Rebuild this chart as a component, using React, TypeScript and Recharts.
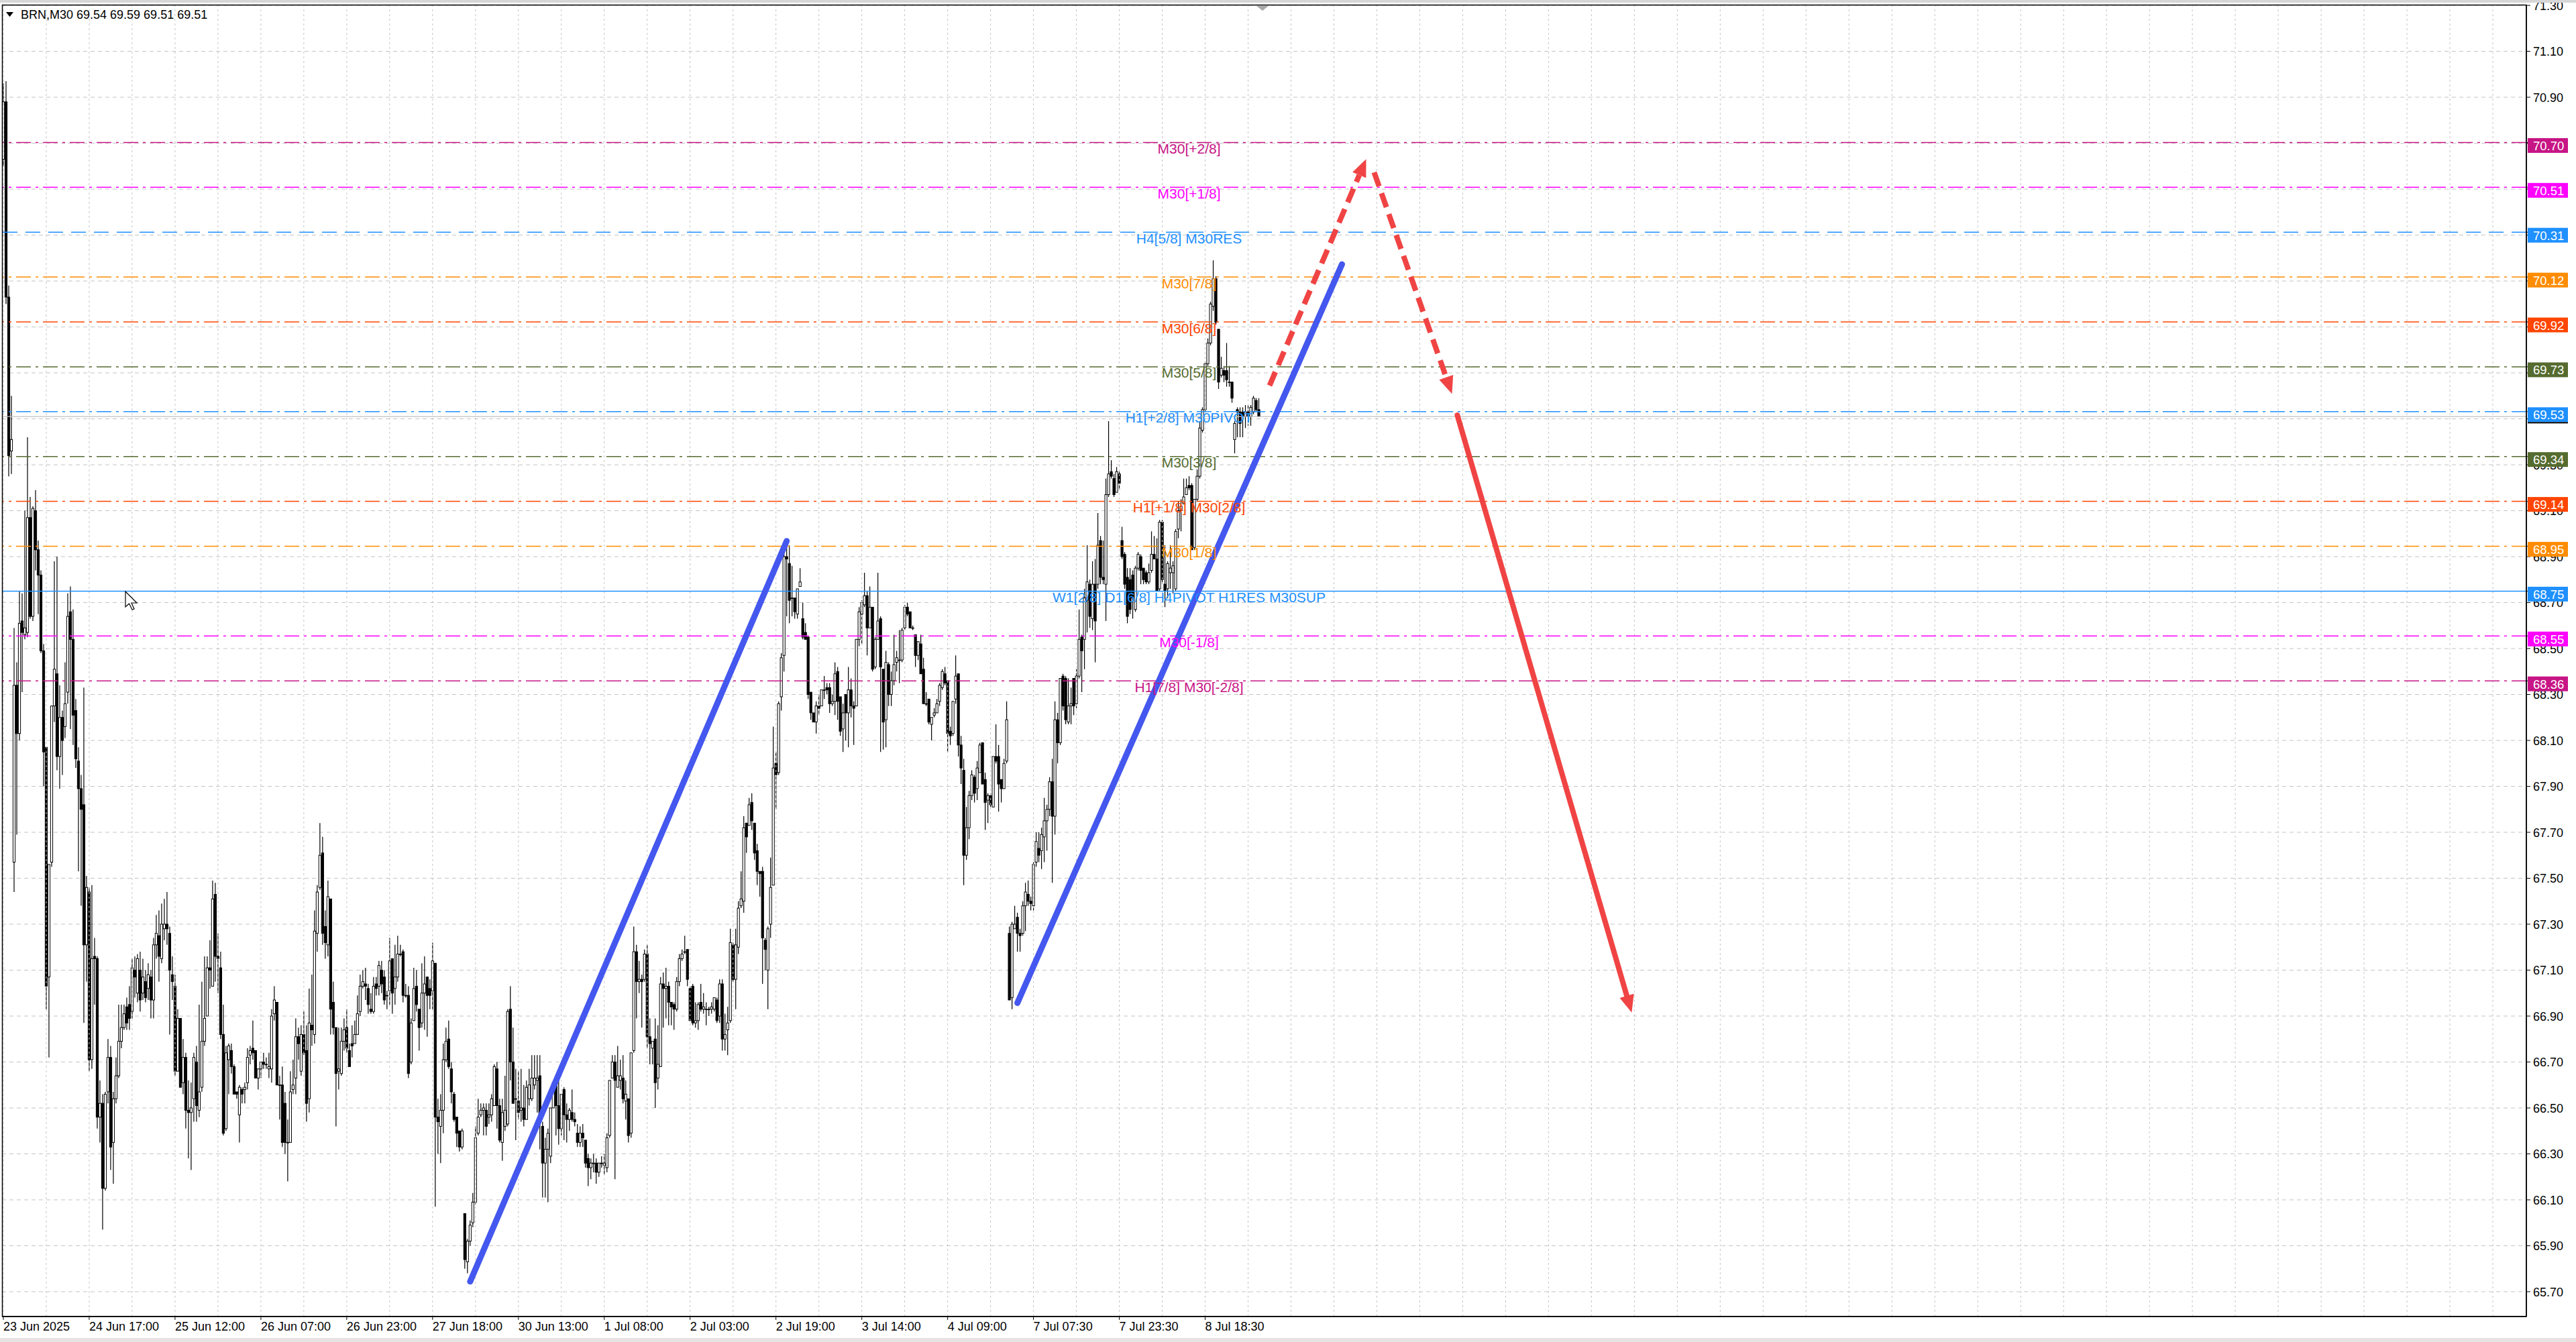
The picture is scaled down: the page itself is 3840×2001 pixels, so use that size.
import {
  Bar,
  CartesianGrid,
  ComposedChart,
  ReferenceDot,
  ReferenceLine,
  XAxis,
  YAxis,
} from "recharts";

const FONT = "'Liberation Sans', Arial, sans-serif";
const SLOTS = 941; // visible bar slots incl. empty right-hand space

// M30 candles, each [open, high, low, close]
const candlesJun23 = [
  [70.63, 70.96, 70.6, 70.88], [70.88, 70.97, 70.0, 70.03], [70.03, 70.08, 69.25, 69.34], [69.36, 69.6, 69.26, 69.41],
  [67.57, 68.59, 67.44, 68.34], [68.34, 68.44, 67.69, 68.13], [68.13, 68.75, 68.1, 68.61], [68.62, 68.74, 68.31, 68.57],
  [68.56, 69.1, 68.54, 68.59], [68.57, 69.42, 68.55, 69.07], [69.07, 69.16, 68.63, 68.64], [68.64, 69.12, 68.62, 69.11],
  [69.1, 69.19, 68.84, 68.93], [68.93, 68.97, 68.65, 68.82], [68.82, 68.84, 68.48, 68.49], [68.49, 68.52, 67.9, 68.05],
  [68.07, 68.07, 66.93, 67.03], [67.07, 67.56, 66.72, 67.56], [67.57, 68.25, 67.55, 68.25], [68.25, 68.88, 68.18, 68.41],
  [68.39, 68.9, 67.97, 68.03], [68.03, 68.34, 67.89, 68.2], [68.2, 68.23, 67.95, 68.1], [68.16, 68.44, 68.11, 68.26],
  [68.31, 68.74, 68.26, 68.64], [68.66, 68.77, 68.15, 68.54], [68.54, 68.67, 68.08, 68.21], [68.23, 68.28, 67.98, 68.02],
  [68.01, 68.07, 67.53, 67.89], [67.89, 67.95, 67.38, 67.8], [67.82, 68.33, 66.87, 67.21], [67.21, 67.51, 67.05, 67.46],
  [67.44, 67.46, 66.66, 66.71], [66.71, 67.47, 66.67, 67.15], [67.16, 67.24, 66.95, 67.15], [67.15, 67.16, 66.41, 66.46],
  [66.46, 66.62, 66.35, 66.52], [66.52, 66.56, 65.97, 66.15], [66.15, 66.57, 66.14, 66.56], [66.57, 66.8, 66.52, 66.72],
  [66.72, 66.77, 66.23, 66.33], [66.35, 66.57, 66.17, 66.54], [66.54, 66.72, 66.52, 66.64], [66.64, 66.95, 66.63, 66.79],
  [66.79, 66.95, 66.76, 66.85], [66.85, 66.95, 66.84, 66.91], [66.94, 66.98, 66.84, 66.87], [66.95, 67.03, 66.84, 66.89],
  [66.92, 67.15, 66.89, 67.11], [67.1, 67.16, 66.98, 67.07], [67.0, 67.17, 66.96, 67.15], [67.1, 67.18, 66.92, 66.97],
  [67.0, 67.15, 66.97, 67.07], [67.05, 67.1, 66.96, 66.98], [67.02, 67.13, 66.97, 67.08], [67.07, 67.1, 66.89, 66.97],
  [66.97, 67.24, 66.89, 67.21], [67.21, 67.34, 67.15, 67.26], [67.25, 67.36, 67.05, 67.16], [67.15, 67.39, 67.13, 67.3],
  [67.28, 67.41, 67.23, 67.3], [67.3, 67.44, 67.21, 67.28], [67.26, 67.29, 66.82, 67.1], [67.08, 67.16, 66.97, 67.05],
  [67.03, 67.08, 66.64, 66.66], [66.66, 66.93, 66.66, 66.89], [66.89, 66.89, 66.59, 66.59], [66.61, 66.8, 66.56, 66.72],
  [66.72, 66.74, 66.41, 66.49], [66.49, 66.62, 66.28, 66.48], [66.48, 66.61, 66.23, 66.5], [66.54, 66.74, 66.44, 66.72],
  [66.7, 66.77, 66.44, 66.51], [66.49, 66.95, 66.46, 66.57], [66.59, 67.05, 66.57, 66.79], [66.79, 67.16, 66.77, 66.89],
  [66.9, 67.16, 66.9, 67.11], [67.11, 67.23, 67.02, 67.1], [67.03, 67.49, 67.03, 67.41], [67.43, 67.48, 67.05, 67.16],
  [67.16, 67.26, 67.0, 67.15], [67.11, 67.18, 66.8, 66.82], [66.82, 66.95, 66.38, 66.39], [66.41, 66.77, 66.4, 66.74],
];

const candlesJun25 = [
  [66.71, 66.78, 66.56, 66.77], [66.75, 66.78, 66.65, 66.68], [66.68, 66.69, 66.56, 66.56], [66.57, 66.57, 66.54, 66.56],
  [66.47, 66.6, 66.35, 66.59], [66.58, 66.59, 66.52, 66.56], [66.58, 66.61, 66.52, 66.59], [66.61, 66.76, 66.58, 66.72],
  [66.73, 66.77, 66.69, 66.75], [66.76, 66.88, 66.71, 66.74], [66.75, 66.75, 66.63, 66.63], [66.63, 66.67, 66.58, 66.67],
  [66.67, 66.7, 66.63, 66.7], [66.7, 66.74, 66.67, 66.69], [66.69, 66.72, 66.67, 66.69], [66.67, 66.74, 66.63, 66.68],
  [66.67, 66.93, 66.61, 66.9], [66.91, 67.03, 66.88, 66.97], [66.96, 66.96, 66.6, 66.6], [66.6, 66.64, 66.45, 66.6],
  [66.6, 66.68, 66.33, 66.35], [66.52, 66.57, 66.3, 66.35], [66.35, 66.45, 66.18, 66.35], [66.35, 66.66, 66.35, 66.57],
  [66.58, 66.71, 66.56, 66.6], [66.63, 66.89, 66.56, 66.81], [66.81, 66.85, 66.71, 66.78], [66.66, 66.86, 66.64, 66.82],
  [66.82, 66.92, 66.73, 66.74], [66.75, 66.86, 66.44, 66.52], [66.54, 67.02, 66.48, 66.87], [66.86, 67.08, 66.77, 66.84],
  [66.82, 67.36, 66.78, 67.27], [67.26, 67.47, 67.18, 67.44], [67.46, 67.74, 67.45, 67.6], [67.61, 67.68, 67.21, 67.26],
  [67.29, 67.36, 67.15, 67.22], [67.21, 67.49, 67.16, 67.42], [67.41, 67.41, 66.82, 66.93], [66.96, 67.05, 66.82, 66.85],
  [66.85, 66.85, 66.42, 66.65], [66.66, 66.85, 66.58, 66.67], [66.65, 66.85, 66.64, 66.79], [66.79, 66.89, 66.75, 66.84],
  [66.85, 66.93, 66.74, 66.76], [66.75, 66.78, 66.68, 66.68], [66.78, 66.86, 66.72, 66.77], [66.78, 66.88, 66.78, 66.82],
  [66.82, 66.99, 66.82, 66.91], [66.92, 67.08, 66.9, 67.03], [67.03, 67.1, 67.02, 67.05], [67.04, 67.11, 66.97, 67.03],
  [67.02, 67.04, 66.91, 66.95], [66.93, 67.0, 66.91, 66.92], [66.92, 67.07, 66.91, 67.03], [67.04, 67.07, 66.99, 67.02],
  [67.03, 67.14, 66.99, 67.12], [67.1, 67.14, 67.0, 67.04], [67.07, 67.1, 66.95, 66.97], [66.99, 67.01, 66.93, 66.99],
  [67.01, 67.24, 66.95, 67.14], [67.15, 67.15, 66.91, 67.0], [67.02, 67.21, 66.95, 67.07], [67.07, 67.25, 67.05, 67.17],
  [67.17, 67.21, 67.16, 67.17], [67.18, 67.19, 66.96, 66.99], [66.99, 67.04, 66.98, 66.99], [66.99, 67.03, 66.63, 66.65],
  [66.7, 66.89, 66.69, 66.87], [66.88, 67.11, 66.88, 67.02], [67.03, 67.1, 66.92, 66.95], [66.93, 66.93, 66.75, 66.85],
  [66.87, 67.13, 66.85, 67.0], [67.0, 67.16, 66.84, 67.04], [67.07, 67.07, 66.81, 66.99], [67.02, 67.06, 66.93, 66.99],
  [67.01, 67.22, 66.93, 67.14], [67.13, 67.13, 66.07, 66.46], [66.46, 66.54, 66.3, 66.44], [66.42, 66.56, 66.26, 66.49],
  [66.49, 66.78, 66.39, 66.71], [66.71, 66.85, 66.7, 66.79], [66.8, 66.88, 66.67, 66.68], [66.67, 66.7, 66.52, 66.57],
  [66.56, 66.57, 66.44, 66.45], [66.46, 66.46, 66.33, 66.39], [66.4, 66.4, 66.31, 66.33], [66.33, 66.41, 66.32, 66.4],
  [66.04, 66.04, 65.8, 65.84], [65.83, 65.93, 65.78, 65.92], [65.92, 66.01, 65.9, 65.99], [66.0, 66.13, 65.98, 66.09],
  [66.09, 66.42, 66.08, 66.37], [66.39, 66.54, 66.38, 66.46], [66.47, 66.52, 66.46, 66.49],
];

const candlesJun30 = [
  [66.49, 66.52, 66.38, 66.5], [66.49, 66.52, 66.38, 66.42], [66.46, 66.52, 66.43, 66.47], [66.47, 66.56, 66.44, 66.54],
  [66.51, 66.69, 66.51, 66.68], [66.67, 66.7, 66.41, 66.51], [66.51, 66.54, 66.35, 66.36], [66.35, 66.54, 66.27, 66.48],
  [66.42, 66.64, 66.4, 66.49], [66.43, 66.93, 66.42, 66.92], [66.93, 67.03, 66.62, 66.7], [66.7, 66.85, 66.52, 66.52],
  [66.54, 66.67, 66.36, 66.54], [66.53, 66.66, 66.45, 66.48], [66.49, 66.67, 66.44, 66.5], [66.5, 66.6, 66.42, 66.45],
  [66.45, 66.62, 66.45, 66.59], [66.54, 66.67, 66.51, 66.6], [66.54, 66.73, 66.53, 66.63], [66.6, 66.73, 66.58, 66.63],
  [66.62, 66.73, 66.48, 66.63], [66.64, 66.73, 66.32, 66.47], [66.42, 66.44, 66.11, 66.26], [66.26, 66.37, 66.11, 66.32],
  [66.32, 66.41, 66.09, 66.39], [66.29, 66.5, 66.26, 66.5], [66.5, 66.61, 66.5, 66.61], [66.6, 66.63, 66.38, 66.51],
  [66.51, 66.63, 66.34, 66.41], [66.41, 66.56, 66.38, 66.56], [66.58, 66.59, 66.36, 66.47], [66.47, 66.52, 66.35, 66.45],
  [66.45, 66.5, 66.4, 66.49], [66.48, 66.58, 66.44, 66.45], [66.45, 66.48, 66.42, 66.44], [66.39, 66.43, 66.33, 66.35],
  [66.35, 66.42, 66.33, 66.39], [66.39, 66.43, 66.33, 66.37], [66.36, 66.36, 66.24, 66.26], [66.28, 66.3, 66.16, 66.24],
  [66.24, 66.28, 66.19, 66.26], [66.26, 66.3, 66.22, 66.26], [66.26, 66.28, 66.17, 66.22], [66.22, 66.26, 66.2, 66.26],
  [66.26, 66.29, 66.24, 66.26], [66.25, 66.3, 66.21, 66.26], [66.24, 66.39, 66.22, 66.37], [66.38, 66.62, 66.37, 66.62],
  [66.63, 66.73, 66.63, 66.7], [66.7, 66.73, 66.19, 66.62], [66.59, 66.77, 66.59, 66.64], [66.62, 66.71, 66.58, 66.64],
  [66.63, 66.73, 66.52, 66.54], [66.53, 66.62, 66.45, 66.56], [66.54, 66.54, 66.35, 66.38], [66.39, 66.74, 66.37, 66.74],
  [66.75, 67.29, 66.74, 67.18], [67.18, 67.21, 66.89, 67.05], [67.05, 67.14, 67.0, 67.06], [67.06, 67.08, 66.85, 67.05],
  [67.06, 67.19, 67.05, 67.17], [67.17, 67.21, 66.76, 66.81], [66.81, 66.89, 66.69, 66.78], [66.76, 66.78, 66.69, 66.79],
  [66.8, 66.89, 66.5, 66.61], [66.63, 66.86, 66.58, 66.69], [66.68, 67.07, 66.68, 67.04], [67.04, 67.09, 66.85, 67.02],
  [67.02, 67.11, 66.89, 67.03], [67.03, 67.05, 66.86, 66.96], [66.96, 66.96, 66.86, 66.94], [66.95, 66.96, 66.84, 66.93],
  [66.93, 67.07, 66.92, 67.05], [67.05, 67.17, 67.03, 67.15], [67.15, 67.19, 67.14, 67.17], [67.18, 67.25, 67.17, 67.18],
  [67.19, 67.19, 67.03, 67.06], [67.02, 67.03, 66.88, 66.88], [67.03, 67.04, 66.86, 66.87], [66.87, 66.96, 66.85, 66.88],
  [66.88, 66.96, 66.84, 66.95], [66.96, 67.04, 66.92, 66.93], [66.93, 67.0, 66.91, 66.94], [66.93, 66.96, 66.86, 66.93],
  [66.93, 66.94, 66.9, 66.93], [66.93, 66.96, 66.91, 66.94], [66.93, 66.98, 66.92, 66.98], [66.97, 66.98, 66.87, 66.88],
  [66.9, 67.06, 66.87, 67.04], [67.04, 67.06, 66.75, 66.8], [66.8, 66.91, 66.75, 66.82], [66.84, 66.94, 66.73, 66.87],
  [66.88, 67.28, 66.87, 67.22], [67.21, 67.22, 67.05, 67.06], [67.06, 67.28, 66.93, 67.21], [67.2, 67.4, 67.17, 67.37],
  [67.38, 67.53, 67.37, 67.41], [67.4, 67.77, 67.35, 67.72], [67.74, 67.74, 67.61, 67.68], [67.73, 67.85, 67.73, 67.82],
  [67.83, 67.87, 67.71, 67.75], [67.74, 67.74, 67.58, 67.61], [67.62, 67.65, 67.47, 67.53], [67.53, 67.53, 67.42, 67.52],
  [67.53, 67.55, 67.04, 67.24], [67.23, 67.24, 67.1, 67.19], [67.1, 67.29, 66.93, 67.28], [67.3, 67.59, 67.24, 67.46],
  [67.47, 68.16, 67.47, 67.98], [68.0, 68.05, 67.8, 67.95], [67.96, 68.27, 67.95, 68.26], [68.29, 68.48, 68.23, 68.46],
  [68.47, 68.92, 68.4, 68.9], [68.9, 68.94, 68.64, 68.89], [68.87, 68.95, 68.61, 68.71],
];

const candlesJul2 = [
  [68.72, 68.86, 68.64, 68.72], [68.72, 68.72, 68.63, 68.66], [68.65, 68.76, 68.63, 68.76], [68.77, 68.85, 68.77, 68.79],
  [68.63, 68.7, 68.54, 68.55], [68.57, 68.61, 68.54, 68.54], [68.55, 68.55, 68.28, 68.3], [68.31, 68.31, 68.19, 68.22],
  [68.22, 68.22, 68.18, 68.18], [68.18, 68.27, 68.13, 68.25], [68.25, 68.3, 68.21, 68.24], [68.25, 68.32, 68.25, 68.32],
  [68.32, 68.38, 68.28, 68.32], [68.33, 68.35, 68.3, 68.32], [68.33, 68.35, 68.22, 68.26], [68.26, 68.3, 68.25, 68.27],
  [68.27, 68.44, 68.21, 68.39], [68.4, 68.42, 68.19, 68.27], [68.29, 68.29, 68.12, 68.14], [68.15, 68.26, 68.05, 68.22],
  [68.3, 68.3, 68.1, 68.22], [68.22, 68.42, 68.07, 68.32], [68.32, 68.37, 68.2, 68.25], [68.25, 68.27, 68.08, 68.24],
  [68.25, 68.54, 68.25, 68.54], [68.54, 68.68, 68.51, 68.66], [68.65, 68.71, 68.52, 68.7], [68.69, 68.83, 68.68, 68.73],
  [68.73, 68.75, 68.47, 68.59], [68.59, 68.77, 68.59, 68.68], [68.68, 68.68, 68.4, 68.41], [68.42, 68.55, 68.41, 68.54],
  [68.54, 68.83, 68.54, 68.62], [68.63, 68.64, 68.05, 68.42], [68.41, 68.41, 68.06, 68.18], [68.19, 68.49, 68.07, 68.44],
  [68.43, 68.44, 68.25, 68.3], [68.3, 68.4, 68.25, 68.36], [68.36, 68.56, 68.34, 68.43], [68.44, 68.49, 68.4, 68.46],
  [68.45, 68.58, 68.35, 68.45], [68.45, 68.59, 68.44, 68.58], [68.59, 68.69, 68.58, 68.68], [68.68, 68.7, 68.64, 68.65],
  [68.66, 68.66, 68.59, 68.59], [68.59, 68.6, 68.58, 68.59], [68.56, 68.56, 68.42, 68.47], [68.47, 68.53, 68.45, 68.53],
  [68.52, 68.56, 68.39, 68.39], [68.41, 68.46, 68.26, 68.26], [68.26, 68.31, 68.25, 68.26], [68.28, 68.28, 68.17, 68.18],
  [68.17, 68.2, 68.1, 68.2], [68.21, 68.24, 68.2, 68.22], [68.22, 68.28, 68.22, 68.26], [68.27, 68.35, 68.25, 68.34],
  [68.33, 68.41, 68.32, 68.4], [68.39, 68.42, 68.34, 68.35], [68.36, 68.36, 68.05, 68.13], [68.14, 68.16, 68.08, 68.12],
  [68.13, 68.27, 68.12, 68.27], [68.28, 68.47, 68.26, 68.38], [68.39, 68.39, 68.03, 68.08], [68.08, 68.12, 67.91, 67.98],
  [67.97, 68.02, 67.47, 67.6], [67.6, 67.81, 67.58, 67.72], [67.72, 67.88, 67.67, 67.86], [67.86, 67.97, 67.84, 67.95],
  [67.94, 67.95, 67.83, 67.87], [67.89, 68.01, 67.84, 67.98], [67.96, 68.09, 67.96, 68.08], [68.09, 68.09, 67.91, 67.91],
  [67.93, 67.96, 67.71, 67.83], [67.84, 67.87, 67.74, 67.86], [67.86, 67.87, 67.81, 67.82], [67.81, 68.03, 67.81, 68.03],
  [68.03, 68.17, 68.0, 68.01], [68.03, 68.08, 67.79, 67.91], [67.93, 67.93, 67.83, 67.89], [67.89, 68.02, 67.89, 68.0],
  [68.01, 68.27, 68.0, 68.19],
];

const candlesJul7 = [
  [67.26, 67.29, 66.97, 66.97], [66.98, 67.31, 66.93, 67.3], [67.28, 67.38, 67.28, 67.3], [67.33, 67.35, 67.18, 67.26],
  [67.26, 67.28, 67.18, 67.25], [67.26, 67.4, 67.25, 67.38], [67.38, 67.48, 67.27, 67.44], [67.43, 67.49, 67.38, 67.4],
  [67.4, 67.42, 67.36, 67.39], [67.38, 67.57, 67.36, 67.56], [67.57, 67.7, 67.55, 67.66], [67.63, 67.7, 67.57, 67.6],
  [67.62, 67.72, 67.54, 67.69], [67.68, 67.85, 67.57, 67.75], [67.75, 67.82, 67.62, 67.8], [67.8, 67.94, 67.77, 67.92],
  [67.92, 68.02, 67.48, 67.77], [67.77, 68.27, 67.69, 68.19], [68.19, 68.22, 68.0, 68.09], [68.09, 68.37, 68.08, 68.37],
  [68.38, 68.39, 68.23, 68.25], [68.37, 68.38, 68.17, 68.19], [68.18, 68.37, 68.17, 68.25], [68.25, 68.33, 68.17, 68.26],
  [68.37, 68.37, 68.21, 68.25], [68.26, 68.41, 68.24, 68.38], [68.38, 68.67, 68.37, 68.54], [68.55, 68.56, 68.31, 68.49],
  [68.54, 68.76, 68.41, 68.72], [68.71, 68.95, 68.57, 68.79], [68.78, 68.8, 68.59, 68.64], [68.63, 68.88, 68.58, 68.78],
  [68.78, 68.89, 68.44, 68.62], [68.78, 69.09, 68.76, 68.95], [68.97, 68.99, 68.78, 68.81], [68.81, 68.97, 68.78, 68.8],
  [68.78, 69.24, 68.62, 69.17], [69.17, 69.49, 69.16, 69.26], [69.27, 69.32, 69.24, 69.25], [69.24, 69.26, 69.16, 69.17],
  [69.18, 69.29, 69.18, 69.27], [69.26, 69.27, 69.19, 69.22], [68.97, 69.03, 68.89, 68.9], [68.91, 68.92, 68.76, 68.78],
  [68.81, 68.85, 68.61, 68.64], [68.8, 68.85, 68.65, 68.67], [68.82, 68.84, 68.63, 68.72], [68.67, 68.86, 68.66, 68.85],
  [68.85, 68.92, 68.84, 68.91], [68.9, 68.91, 68.78, 68.84], [68.85, 68.85, 68.78, 68.8], [68.83, 68.84, 68.78, 68.79],
  [68.79, 68.87, 68.78, 68.83], [68.84, 69.01, 68.83, 68.91], [68.91, 68.99, 68.89, 68.89], [68.89, 68.98, 68.75, 68.75],
  [68.76, 69.06, 68.75, 69.05], [69.05, 69.06, 68.78, 68.8], [68.78, 68.95, 68.68, 68.75], [68.76, 68.88, 68.72, 68.87],
  [68.83, 68.95, 68.76, 68.85], [68.83, 68.88, 68.74, 68.86], [68.76, 69.02, 68.75, 69.01], [69.02, 69.14, 68.98, 69.1],
  [69.1, 69.15, 69.01, 69.12], [69.13, 69.24, 69.13, 69.16], [69.17, 69.24, 69.17, 69.2], [69.21, 69.25, 69.19, 69.2],
  [69.21, 69.22, 68.93, 68.93], [68.94, 69.15, 68.93, 69.15], [69.15, 69.28, 69.14, 69.25], [69.25, 69.49, 69.24, 69.46],
  [69.45, 69.55, 69.44, 69.54], [69.54, 69.75, 69.53, 69.74], [69.74, 69.85, 69.73, 69.83], [69.83, 70.01, 69.82, 70.0],
  [69.99, 70.19, 69.97, 70.11], [70.11, 70.12, 69.91, 69.92], [69.89, 69.89, 69.63, 69.66], [69.69, 69.77, 69.68, 69.72],
  [69.71, 69.73, 69.66, 69.69], [69.71, 69.83, 69.64, 69.67], [69.66, 69.73, 69.64, 69.66], [69.66, 69.66, 69.57, 69.59],
  [69.41, 69.49, 69.35, 69.48], [69.54, 69.55, 69.42, 69.53], [69.53, 69.55, 69.42, 69.48], [69.53, 69.55, 69.42, 69.51],
  [69.51, 69.56, 69.46, 69.53], [69.53, 69.56, 69.47, 69.51], [69.51, 69.56, 69.47, 69.55], [69.53, 69.6, 69.52, 69.59],
  [69.58, 69.59, 69.53, 69.54], [69.54, 69.59, 69.51, 69.51],
];

const xTickIdx = [0, 32, 64, 96, 128, 160, 192, 224, 256, 288, 320, 352, 384, 416, 448];
const xTickLabels = [
  "23 Jun 2025", "24 Jun 17:00", "25 Jun 12:00", "26 Jun 07:00", "26 Jun 23:00",
  "27 Jun 18:00", "30 Jun 13:00", "1 Jul 08:00", "2 Jul 03:00", "2 Jul 19:00",
  "3 Jul 14:00", "4 Jul 09:00", "7 Jul 07:30", "7 Jul 23:30", "8 Jul 18:30",
];
const yTicks = [
  71.3, 71.1, 70.9, 70.7, 70.5, 70.3, 70.1, 69.9, 69.7, 69.5, 69.3, 69.1, 68.9, 68.7, 68.5,
  68.3, 68.1, 67.9, 67.7, 67.5, 67.3, 67.1, 66.9, 66.7, 66.5, 66.3, 66.1, 65.9, 65.7,
];
const vGridIdx = Array.from({ length: 59 }, (_, k) => k * 16);

// Murrey math levels
const levelPrices = [
  70.703125, 70.5078125, 70.3125, 70.1171875, 69.921875, 69.7265625, 69.53125,
  69.3359375, 69.140625, 68.9453125, 68.75, 68.5546875, 68.359375,
];
const levelTags = [
  "70.70", "70.51", "70.31", "70.12", "69.92", "69.73", "69.53",
  "69.34", "69.14", "68.95", "68.75", "68.55", "68.36",
];
const levelNames = [
  "M30[+2/8]", "M30[+1/8]", "H4[5/8] M30RES", "M30[7/8]", "M30[6/8]", "M30[5/8]",
  "H1[+2/8] M30PIVOT", "M30[3/8]", "H1[+1/8] M30[2/8]", "M30[1/8]",
  "W1[2/8] D1[6/8] H4PIVOT H1RES M30SUP", "M30[-1/8]", "H1[7/8] M30[-2/8]",
];
const levelColors = [
  "#C71585", "#FF00FF", "#1E90FF", "#FF8C00", "#FF4500", "#556B2F", "#1E90FF",
  "#556B2F", "#FF4500", "#FF8C00", "#1E90FF", "#FF00FF", "#C71585",
];
const levelStyles = ["dd", "dd", "ld", "dd", "dd", "dd", "dd", "dd", "dd", "dd", "solid", "dd", "dd"];
const bidPrice = 69.51;

// drawn trend lines / forecast arrows: [barIndex, price]
const blueLines = [
  [[174, 65.744], [292, 68.968]],
  [[378, 66.957], [499, 70.173]],
];
const redDashedArrows = [
  [[472, 69.645], [508, 70.631]],
  [[511, 70.573], [540, 69.609]],
];
const redSolidArrows = [[[542, 69.516], [607, 66.915]]];

const candles = [...candlesJun23, ...candlesJun25, ...candlesJun30, ...candlesJul2, ...candlesJul7];
const rows = Array.from({ length: SLOTS }, (_, i) => {
  const c = candles[i];
  return c ? { i, range: [c[2], c[1]], o: c[0], h: c[1], l: c[2], c: c[3] } : { i };
});

function Candle(props: any) {
  const { x, y, width, height, payload } = props;
  if (!payload || payload.h == null || !Number.isFinite(y)) return null;
  const top = Math.min(y, y + height);
  const px = Math.abs(height);
  const span = payload.h - payload.l;
  const toY = (v: number) => (span > 0 ? top + ((payload.h - v) / span) * px : top);
  const cx = x + width / 2;
  const yo = toY(payload.o);
  const yc = toY(payload.c);
  const up = payload.c >= payload.o;
  const bt = Math.min(yo, yc);
  const bh = Math.max(Math.abs(yc - yo), 0.8);
  return (
    <g>
      <line x1={cx} x2={cx} y1={top} y2={top + px} stroke="#000" strokeWidth={1.2} />
      <rect x={cx - 1.6} y={bt} width={3.2} height={bh} fill={up ? "#fff" : "#000"} stroke="#000" strokeWidth={1} />
    </g>
  );
}

function makeArrow(color: string, sw: number, dash?: string, head = true) {
  return (p: any) => {
    const { x1, y1, x2, y2 } = p;
    const dx = x2 - x1;
    const dy = y2 - y1;
    const len = Math.hypot(dx, dy) || 1;
    const ux = dx / len;
    const uy = dy / len;
    const hl = head ? 26 : 0;
    const hw = 11;
    const bx = x2 - ux * hl;
    const by = y2 - uy * hl;
    return (
      <g>
        <line
          x1={x1}
          y1={y1}
          x2={bx}
          y2={by}
          stroke={color}
          strokeWidth={sw}
          strokeDasharray={dash}
          strokeLinecap={dash ? "butt" : "round"}
        />
        {head && (
          <polygon
            points={`${x2},${y2} ${bx - uy * hw},${by + ux * hw} ${bx + uy * hw},${by - ux * hw}`}
            fill={color}
          />
        )}
      </g>
    );
  };
}

// price axis: plain ticks first, coloured level tags last so they sit on top
function PriceTick(props: any) {
  const { x, y, payload } = props;
  const v = Number(payload.value);
  const li = levelPrices.indexOf(v);
  if (li >= 0) {
    return (
      <g>
        <rect x={x - 8} y={y - 6.5} width={60} height={22} fill={levelColors[li]} />
        {v === 69.53125 && <rect x={x - 8} y={y + 15.5} width={60} height={2} fill="#000" />}
        <text x={x} y={y + 11.5} fontSize={18.5} fontFamily={FONT} fill="#fff">
          {levelTags[li]}
        </text>
      </g>
    );
  }
  if (levelPrices.some((p) => Math.abs(p - v) < 0.033)) return null;
  return (
    <text x={x} y={y} dy={6.5} fontSize={18} fontFamily={FONT} fill="#000" textAnchor="start">
      {v.toFixed(2)}
    </text>
  );
}

function TimeTick(props: any) {
  const { x, y, payload } = props;
  const k = xTickIdx.indexOf(Number(payload.value));
  return (
    <text x={x} y={y} dy={14} fontSize={18} fontFamily={FONT} fill="#000" textAnchor="start">
      {k >= 0 ? xTickLabels[k] : ""}
    </text>
  );
}

function nameLabel(text: string, color: string) {
  return (p: any) => (
    <text x={p.cx} y={p.cy + 16.5} fontSize={21} fontFamily={FONT} fill={color} textAnchor="middle">
      {text}
    </text>
  );
}

const dashOf = (s: string) => (s === "dd" ? "22 7 4 7" : s === "ld" ? "22 12" : undefined);

export default function App() {
  return (
    <div style={{ position: "absolute", left: 0, top: 0, width: 3840, height: 2001, background: "#fff", overflow: "hidden" }}>
      <ComposedChart
        width={3840}
        height={2001}
        data={rows}
        margin={{ top: 8, right: 0, bottom: 0, left: 3 }}
        barCategoryGap={0}
        barGap={0}
      >
        <CartesianGrid
          horizontal
          vertical={false}
          horizontalValues={yTicks}
          stroke="#c4c4c4"
          strokeDasharray="6 5"
        />
        <XAxis
          dataKey="i"
          type="category"
          ticks={xTickIdx}
          interval={0}
          height={38}
          tick={<TimeTick />}
          tickSize={5}
          tickMargin={2}
          tickLine={{ stroke: "#000" }}
          axisLine={{ stroke: "#000", strokeWidth: 1.5 }}
        />
        <YAxis
          orientation="right"
          type="number"
          domain={[65.592, 71.3]}
          ticks={[...yTicks, ...levelPrices]}
          interval={0}
          width={74}
          allowDataOverflow
          tick={<PriceTick />}
          tickSize={6}
          tickMargin={4}
          tickLine={{ stroke: "#000" }}
          axisLine={{ stroke: "#000", strokeWidth: 1.5 }}
        />
        {vGridIdx.map((v) => (
          <ReferenceLine key={`vg${v}`} x={v} stroke="#c4c4c4" strokeDasharray="3 4" />
        ))}
        <ReferenceLine y={bidPrice} stroke="#c0c0c0" strokeWidth={1.2} />
        {levelPrices.map((p, k) => (
          <ReferenceLine
            key={`lv${k}`}
            y={p}
            stroke={levelColors[k]}
            strokeWidth={1.5}
            strokeDasharray={dashOf(levelStyles[k])}
          />
        ))}
        <Bar dataKey="range" shape={<Candle />} isAnimationActive={false} />
        {levelPrices.map((p, k) => (
          <ReferenceDot
            key={`ln${k}`}
            x={442}
            y={p}
            r={1}
            ifOverflow="visible"
            shape={nameLabel(levelNames[k], levelColors[k])}
          />
        ))}
        {blueLines.map((s, k) => (
          <ReferenceLine
            key={`bl${k}`}
            segment={[{ x: s[0][0], y: s[0][1] }, { x: s[1][0], y: s[1][1] }]}
            ifOverflow="visible"
            shape={makeArrow("#4457EE", 9, undefined, false)}
          />
        ))}
        {redDashedArrows.map((s, k) => (
          <ReferenceLine
            key={`rd${k}`}
            segment={[{ x: s[0][0], y: s[0][1] }, { x: s[1][0], y: s[1][1] }]}
            ifOverflow="visible"
            shape={makeArrow("#F04444", 8, "22 11", true)}
          />
        ))}
        {redSolidArrows.map((s, k) => (
          <ReferenceLine
            key={`rs${k}`}
            segment={[{ x: s[0][0], y: s[0][1] }, { x: s[1][0], y: s[1][1] }]}
            ifOverflow="visible"
            shape={makeArrow("#F04444", 8, undefined, true)}
          />
        ))}
      </ComposedChart>
      <svg
        width={3840}
        height={2001}
        style={{ position: "absolute", left: 0, top: 0, pointerEvents: "none" }}
      >
        <rect x={0} y={0} width={3840} height={4} fill="#d6d6d6" />
        <rect x={0} y={1995} width={3840} height={6} fill="#e8e3e3" />
        <rect x={3.5} y={7.5} width={3762.5} height={1955.5} fill="none" stroke="#000" strokeWidth={1.5} />
        <polygon points="1872,8 1892,8 1882,16" fill="#a8a8a8" />
        <polygon points="9,18 20,18 14.5,25" fill="#000" />
        <text x={31} y={28} fontSize={18} fontFamily={FONT} fill="#000">
          BRN,M30  69.54 69.59 69.51 69.51
        </text>
        <polygon
          points="187,882 187,905 192.5,900 197,909 200,908 196,899 204,899"
          fill="#fff"
          stroke="#000"
          strokeWidth={1.2}
        />
      </svg>
    </div>
  );
}
